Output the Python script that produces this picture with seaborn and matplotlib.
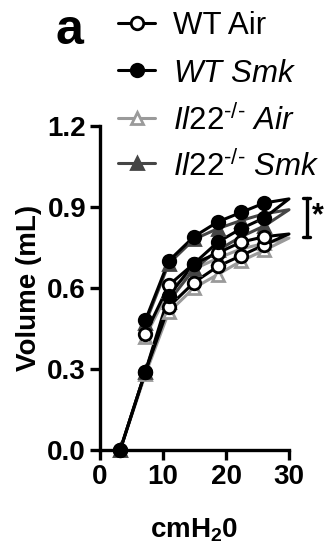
import matplotlib
matplotlib.use("Agg")
import matplotlib.pyplot as plt
import seaborn as sns
import pandas as pd
from matplotlib.lines import Line2D

# Pressure points (inflation up to 30, then deflation back)
pressure = [3.2, 7.2, 10.9, 14.9, 18.7, 22.4, 26.1, 30.0, 26.1, 22.4, 18.7, 14.9, 10.9, 7.2]
groups = ["WT Air", "WT Smk", "Il22 Air", "Il22 Smk"]
wt_air = [0.0, 0.29, 0.53, 0.62, 0.68, 0.72, 0.76, 0.80, 0.79, 0.77, 0.73, 0.69, 0.61, 0.43]
wt_smk = [0.0, 0.29, 0.57, 0.69, 0.77, 0.82, 0.86, 0.93, 0.915, 0.88, 0.845, 0.79, 0.70, 0.48]
il22_air = [0.0, 0.28, 0.51, 0.60, 0.65, 0.70, 0.74, 0.785, 0.765, 0.745, 0.71, 0.67, 0.59, 0.42]
il22_smk = [0.0, 0.29, 0.55, 0.67, 0.74, 0.79, 0.83, 0.89, 0.875, 0.85, 0.82, 0.78, 0.69, 0.47]
legend_labels = ["WT Air", r"$\mathit{WT\ Smk}$",
                 r"$\mathit{Il22}^{\mathit{\text{-/-}}}\ \mathit{Air}$",
                 r"$\mathit{Il22}^{\mathit{\text{-/-}}}\ \mathit{Smk}$"]
x_ticks = [0, 10, 20, 30]
y_ticks = [0.0, 0.3, 0.6, 0.9, 1.2]

sns.set_style("ticks")
plt.rcParams["font.family"] = ["Liberation Sans", "DejaVu Sans"]
plt.rcParams["mathtext.fontset"] = "custom"
plt.rcParams["mathtext.it"] = "Liberation Sans:italic"
plt.rcParams["mathtext.rm"] = "Liberation Sans"
plt.rcParams["mathtext.bf"] = "Liberation Sans:bold"
for k in ["text.color", "axes.edgecolor", "axes.labelcolor", "xtick.color", "ytick.color"]:
    plt.rcParams[k] = "black"

W, H = 333, 554
fig = plt.figure(figsize=(W / 100, H / 100), dpi=100)
ax = fig.add_axes([100 / W, 1 - 450 / H, 189 / W, 324 / H])

styles = {
    "Il22 Air": dict(color="#9a9a9a", marker="^", mfc="white", mec="#9a9a9a"),
    "Il22 Smk": dict(color="#454545", marker="^", mfc="#454545", mec="#454545"),
    "WT Air": dict(color="black", marker="o", mfc="white", mec="black"),
    "WT Smk": dict(color="black", marker="o", mfc="black", mec="black"),
}
series = {"WT Air": wt_air, "WT Smk": wt_smk, "Il22 Air": il22_air, "Il22 Smk": il22_smk}
order = ["Il22 Air", "Il22 Smk", "WT Air", "WT Smk"]
for g in order:
    vals = series[g]
    df = pd.DataFrame({"p": pressure, "v": vals})
    st = styles[g]
    sns.lineplot(data=df, x="p", y="v", sort=False, estimator=None, ax=ax,
                 color=st["color"], lw=2.2, legend=False, clip_on=False)
    dm = df.drop(index=7)
    ax.plot(dm["p"], dm["v"], ls="none", marker=st["marker"], ms=9,
            mfc=st["mfc"], mec=st["mec"], mew=2.0, clip_on=False, zorder=3)

ax.set_xlim(0, 30)
ax.set_ylim(0, 1.2)
ax.set_xticks(x_ticks)
ax.set_yticks(y_ticks)
ax.set_xticklabels([str(t) for t in x_ticks], fontsize=20, fontweight="bold")
ax.set_yticklabels([f"{t:.1f}" for t in y_ticks], fontsize=20, fontweight="bold")
ax.tick_params(width=2.4, length=7, direction="out", pad=3)
for s in ["left", "bottom"]:
    ax.spines[s].set_linewidth(2.4)
sns.despine(ax=ax)
ax.set_xlabel(r"cmH$_\mathbf{2}$0", fontsize=20, fontweight="bold", labelpad=19)
ax.set_ylabel("Volume (mL)", fontsize=20, fontweight="bold", labelpad=4)

# significance bracket
ax.plot([32.8, 32.8], [0.79, 0.935], color="black", lw=2.4, clip_on=False)
ax.plot([32.2, 33.4], [0.935, 0.935], color="black", lw=2.4, clip_on=False)
ax.plot([32.2, 33.4], [0.79, 0.79], color="black", lw=2.4, clip_on=False)
ax.text(33.6, 0.865, "*", fontsize=22, fontweight="bold", va="center", ha="left")

# legend (manual layout)
row_y = [23, 70, 118, 163]
for g, lab, yy in zip(groups, legend_labels, row_y):
    st = styles[g]
    fy = 1 - yy / H
    fig.add_artist(Line2D([118 / W, 155 / W], [fy, fy], color=st["color"], lw=2.2,
                          transform=fig.transFigure))
    fig.add_artist(Line2D([136.5 / W], [fy], ls="none", marker=st["marker"], ms=9,
                          mfc=st["mfc"], mec=st["mec"], mew=2.0, transform=fig.transFigure))
    fig.text(173 / W, fy, lab, fontsize=22.5, va="center_baseline", ha="left")

fig.text(0.168, 0.985, "a", fontsize=36, fontweight="bold", va="top", ha="left")

fig.savefig("out.png", dpi=100)
